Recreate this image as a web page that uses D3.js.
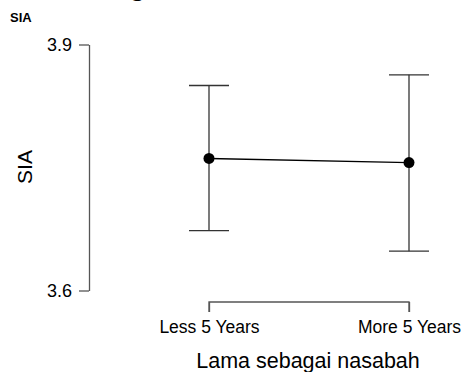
<!DOCTYPE html>
<html>
<head>
<meta charset="utf-8">
<script src="https://cdn.jsdelivr.net/npm/d3@7"></script>
<style>
  body { margin: 0; background: #fff; }
  text { font-family: "Liberation Sans", Arial, sans-serif; fill: #000; }
</style>
</head>
<body>
<svg width="463" height="372"></svg>
<script>
const categories = ["Less 5 Years", "More 5 Years"];
const means = [3.761, 3.756];
const lower = [3.673, 3.648];
const upper = [3.850, 3.863];
const yTicks = [3.6, 3.9];

const svg = d3.select("svg");

const x = d3.scalePoint().domain(categories).range([209, 409]);
const y = d3.scaleLinear().domain([3.6, 3.9]).range([290.5, 44.5]);

// stray descender from text above the crop
svg.append("text")
  .attr("x", 131).attr("y", -4)
  .style("font-family", "Liberation Serif, serif")
  .style("font-size", "26px")
  .text("g");

svg.append("text")
  .attr("x", 10).attr("y", 22)
  .style("font-size", "13px")
  .style("font-weight", "bold")
  .text("SIA");

// y axis
const yAxis = svg.append("g")
  .attr("transform", "translate(89,0)")
  .call(d3.axisLeft(y).tickValues(yTicks).tickFormat(d3.format(".1f")).tickSize(10).tickSizeOuter(0));
yAxis.select(".domain").attr("stroke", "#555").attr("stroke-width", 1.3);
yAxis.selectAll(".tick line").attr("stroke", "#555").attr("stroke-width", 1.3);
yAxis.selectAll(".tick text").attr("x", -17).style("font-size", "18px").style("font-family", "Liberation Sans, Arial, sans-serif").attr("fill", "#000");

// x axis
const xAxis = svg.append("g")
  .attr("transform", "translate(0,302)")
  .call(d3.axisBottom(x).tickSize(10).tickSizeOuter(0));
xAxis.select(".domain").attr("stroke", "#555").attr("stroke-width", 1.3)
  .attr("d", `M${x(categories[0])},10V0H${x(categories[1])}V10`);
xAxis.selectAll(".tick line").attr("stroke", "#555").attr("stroke-width", 1.3);
xAxis.selectAll(".tick text").attr("y", 19).style("font-size", "17.5px").style("font-family", "Liberation Sans, Arial, sans-serif").attr("fill", "#000");

// axis titles
svg.append("text")
  .attr("transform", "translate(32,167) rotate(-90)")
  .attr("text-anchor", "middle")
  .style("font-size", "21px")
  .text("SIA");

svg.append("text")
  .attr("x", 308).attr("y", 368)
  .attr("text-anchor", "middle")
  .style("font-size", "21.5px")
  .text("Lama sebagai nasabah");

// error bars
const bars = svg.append("g").selectAll("g")
  .data(categories)
  .join("g");
bars.append("line")
  .attr("x1", d => x(d)).attr("x2", d => x(d))
  .attr("y1", (d, i) => y(lower[i])).attr("y2", (d, i) => y(upper[i]))
  .attr("stroke", "#333").attr("stroke-width", 1.3);
bars.append("line")
  .attr("x1", d => x(d) - 20).attr("x2", d => x(d) + 20)
  .attr("y1", (d, i) => y(lower[i])).attr("y2", (d, i) => y(lower[i]))
  .attr("stroke", "#333").attr("stroke-width", 1.3);
bars.append("line")
  .attr("x1", d => x(d) - 20).attr("x2", d => x(d) + 20)
  .attr("y1", (d, i) => y(upper[i])).attr("y2", (d, i) => y(upper[i]))
  .attr("stroke", "#333").attr("stroke-width", 1.3);

// mean line and points
svg.append("path")
  .datum(categories)
  .attr("fill", "none")
  .attr("stroke", "#000")
  .attr("stroke-width", 1.3)
  .attr("d", d3.line().x(d => x(d)).y((d, i) => y(means[i])));

svg.append("g").selectAll("circle")
  .data(categories)
  .join("circle")
  .attr("cx", d => x(d))
  .attr("cy", (d, i) => y(means[i]))
  .attr("r", 5.5)
  .attr("fill", "#000");
</script>
</body>
</html>
